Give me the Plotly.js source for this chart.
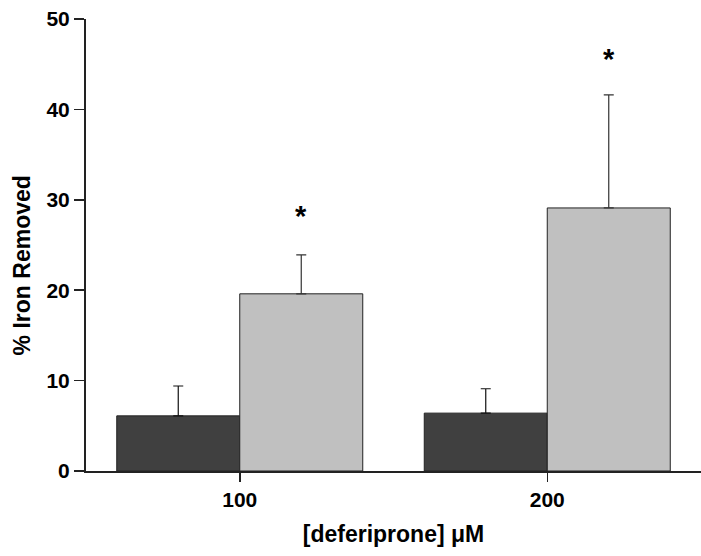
<!DOCTYPE html>
<html>
<head>
<meta charset="utf-8">
<script src="https://cdn.plot.ly/plotly-3.0.1.min.js"></script>
<style>html,body{margin:0;padding:0;background:#fff;}#chart{width:701px;height:556px;}</style>
</head>
<body>
<div id="chart"></div>
<script>
var categories = ['100', '200'];
var darkValues = [6.1, 6.4];
var darkErrors = [3.3, 2.7];
var lightValues = [19.6, 29.1];
var lightErrors = [4.3, 12.5];
var starLabels = ['*', '*'];
var starHeights = [28.2, 45.6];
var xTitle = '[deferiprone] μM';
var yTitle = '% Iron Removed';

var FONT = 'Liberation Sans, Arial, sans-serif';

var traces = [
  {
    type: 'bar', x: categories, y: darkValues, name: 'control',
    marker: {color: '#404040', line: {color: '#222222', width: 1}},
    error_y: {type: 'data', array: darkErrors, arrayminus: [0, 0], symmetric: false, color: '#111111', thickness: 1.2, width: 5},
    hoverinfo: 'none'
  },
  {
    type: 'bar', x: categories, y: lightValues, name: 'treated',
    marker: {color: '#c0c0c0', line: {color: '#222222', width: 1}},
    error_y: {type: 'data', array: lightErrors, arrayminus: [0, 0], symmetric: false, color: '#333333', thickness: 1.2, width: 5},
    hoverinfo: 'none'
  }
];

var annotations = categories.map(function (c, i) {
  return {
    xref: 'x', yref: 'y', x: i + 0.2, y: starHeights[i],
    text: '<b>' + starLabels[i] + '</b>', showarrow: false,
    font: {family: FONT, size: 29, color: '#000'},
    xanchor: 'center', yanchor: 'middle'
  };
});
annotations.push({
  xref: 'paper', yref: 'paper', x: -0.104, y: 0.455,
  text: '<b>' + yTitle + '</b>', textangle: -90, showarrow: false,
  font: {family: FONT, size: 23, color: '#000'},
  xanchor: 'center', yanchor: 'middle'
});

var layout = {
  width: 701, height: 556,
  margin: {l: 86, r: 0, t: 19, b: 85, pad: 0},
  paper_bgcolor: '#fff', plot_bgcolor: '#fff',
  showlegend: false,
  barmode: 'group', bargap: 0.2, bargroupgap: 0,
  font: {family: FONT, color: '#000'},
  xaxis: {
    type: 'category', range: [-0.5, 1.5],
    showline: true, linecolor: '#222', linewidth: 2,
    ticks: 'outside', ticklen: 9, tickwidth: 1.5, tickcolor: '#222',
    tickfont: {family: FONT, size: 21, color: '#000', weight: 'bold'},
    showgrid: false, zeroline: false,
    title: {text: '<b>' + xTitle + '</b>', font: {family: FONT, size: 23, color: '#000'}, standoff: 16}
  },
  yaxis: {
    range: [0, 50], tickvals: [0, 10, 20, 30, 40, 50],
    showline: true, linecolor: '#222', linewidth: 2,
    ticks: 'outside', ticklen: 10, tickwidth: 1.5, tickcolor: '#222',
    tickfont: {family: FONT, size: 21, color: '#000', weight: 'bold'},
    showgrid: false, zeroline: false
  },
  annotations: annotations
};

Plotly.newPlot('chart', traces, layout, {displayModeBar: false, staticPlot: true});
</script>
</body>
</html>
